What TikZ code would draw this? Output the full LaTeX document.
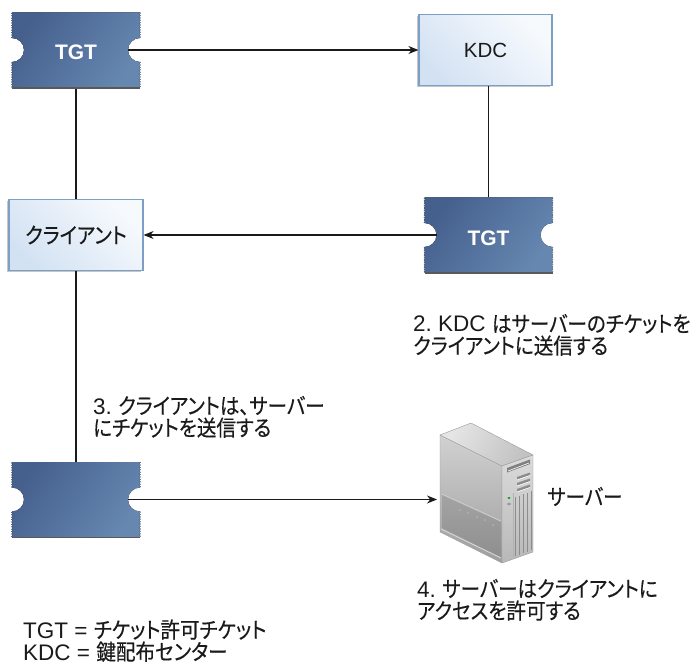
\documentclass[tikz,border=0pt]{standalone}
\usepackage{fontspec}
\setmainfont{Liberation Sans}
\newfontfamily\jp{Noto Sans CJK JP}[RawFeature=+palt, FakeStretch=0.89, FakeBold=0.3]
\usetikzlibrary{arrows.meta,decorations.pathmorphing,shadows}

\definecolor{tkA}{HTML}{46608E}
\definecolor{tkM}{HTML}{6C7D9E}
\definecolor{tkB}{HTML}{6587B0}
\definecolor{boxA}{HTML}{D3E2F3}
\definecolor{boxB}{HTML}{F7FAFD}
\definecolor{boxedge}{HTML}{7D9FC6}
\definecolor{ink}{HTML}{1A1A1A}

\newcommand\ja[1]{{\jp\fontsize{22}{22}\selectfont #1}}
\newcommand\lblsize{\fontsize{22.5}{22}\selectfont}

\tikzset{
  conn/.style={line width=1.2pt, draw=ink},
  arr/.style={conn, -{Stealth[length=10pt,width=8pt]}},
  ticketfill/.style={left color=tkA, middle color=tkM, right color=tkB, shading angle=55},
  perf/.style={decoration={zigzag,segment length=2.4pt,amplitude=0.7pt}},
  tkshadow/.style={draw=black!65, line width=1.6pt},
  tktext/.style={text=white, inner sep=0pt, font=\fontsize{21}{21}\selectfont\bfseries},
  box/.style={draw=boxedge, line width=1.2pt, left color=boxA, right color=boxB,
    shading angle=135, minimum width=133pt, minimum height=71pt, inner sep=0pt,
    text=ink, drop shadow={shadow xshift=-1.6pt, shadow yshift=-1.6pt, opacity=0.45}},
  lbl/.style={anchor=base west, inner sep=0pt, text=ink, font=\lblsize},
}

% perforated ticket centred at #2, with named anchor points
\newcommand\ticketat[2]{%
  \begin{scope}[shift={#2}]
    \fill[ticketfill] (-64,37.5) -- (64,37.5)
      decorate[perf]{ -- (64,12) } arc[start angle=90,end angle=270,radius=12]
      decorate[perf]{ -- (64,-37.5) } -- (-64,-37.5)
      decorate[perf]{ -- (-64,-12) } arc[start angle=-90,end angle=90,radius=12]
      decorate[perf]{ -- (-64,37.5) } -- cycle;
    \draw[tkshadow] (-64,-38) -- (64,-38);
    \coordinate (#1) at (0,0);
    \coordinate (#1-e) at (52,0);
    \coordinate (#1-w) at (-52,0);
    \coordinate (#1-n) at (0,37.5);
    \coordinate (#1-s) at (0,-39);
  \end{scope}}

\begin{document}
\begin{tikzpicture}[x=1pt,y=1pt]
\useasboundingbox (0,0) rectangle (699,665);

% tickets
\ticketat{t1}{(76,615)}
\ticketat{t2}{(488.5,430)}
\ticketat{t3}{(76,165.5)}
\node[tktext] (t1-text) at ([yshift=-2pt]t1) {TGT};
\node[tktext] (t2-text) at ([yshift=-3pt]t2) {TGT};

% boxes
\node[box, font=\fontsize{20.5}{20.5}\selectfont] (kdc) at (485.5,615) {KDC};
\node[box, minimum width=134pt] (client) at (76,430) {\ja{クライアント}};

% server tower
\coordinate (sA) at (440,230);
\coordinate (sB) at (502,199);
\coordinate (sC) at (533,210);
\coordinate (sD) at (471,242);
\coordinate (sE) at (440,133);
\coordinate (sF) at (502,102);
\coordinate (sG) at (533,113);
\coordinate (srv-w) at (437,165.5);
\shade[top color=black!18, bottom color=black!38, draw=black!40, line width=0.4pt]
  (sA) -- (sB) -- (sF) -- (sE) -- cycle;
\shade[left color=black!10, right color=black!24, shading angle=60, draw=black!40, line width=0.4pt]
  (sA) -- (sD) -- (sC) -- (sB) -- cycle;
\shade[top color=black!14, bottom color=black!28, draw=black!40, line width=0.4pt]
  (sB) -- (sC) -- (sG) -- (sF) -- cycle;
% lower panel on the side
\shade[top color=black!36, bottom color=black!44]
  (442,170) -- (501,143) -- (501,108) -- (442,137) -- cycle;
\draw[white!80!black, line width=0.8pt] (442,171) -- (501,144);
\draw[black!15, line width=0.8pt] (441,136) -- (501,107);
\foreach \px/\py in {460/155,468/152,477/148,485/145,493/140}
  \fill[white!85!black] (\px,\py) circle[radius=0.6];
% drive bays
\fill[black!50] (507,197) -- (530,205.5) -- (530,201) -- (507,192.5) -- cycle;
\draw[white, line width=0.6pt] (508,194) -- (529,202);
\foreach \dy in {0,6,12}{
  \fill[black!45] (517,{188-\dy}) -- (530,{192.5-\dy}) -- (530,{190-\dy}) -- (517,{185.5-\dy}) -- cycle;
  \draw[white, line width=0.5pt] (517,{185-\dy}) -- (530,{189.5-\dy});
}
% indicator lights
\fill[green!60!black] (509,167) ellipse[x radius=1.6, y radius=1];
\draw[black!55, line width=0.4pt] (509,161) ellipse[x radius=1.6, y radius=1.1];
% grille strips
\foreach \gx in {515,519,523,527,531}
  \draw[black!45, line width=0.6pt] (\gx,{168+0.35*(\gx-515)}) -- (\gx,{109+0.35*(\gx-515)});
\draw[black!30, line width=0.5pt] (513,{172}) -- (513,{108});

% connectors
\draw[arr] (t1-e) -- (kdc.west);
\draw[conn] (t1-s) -- (client.north);
\draw[conn] (t2-n) -- (t2-n |- kdc.south);
\draw[arr] (t2-w) -- (client.east);
\draw[conn] (client.south) -- (t3-n);
\draw[arr] (t3-e) -- (srv-w);

% captions
\node[lbl] (n2a) at (413,333) {2.\ KDC \ja{はサーバーのチケットを}};
\node[lbl] (n2b) at (413,311) {\ja{クライアントに送信する}};
\node[lbl] (n3a) at (93,251) {3.\ \ja{クライアントは、サーバー}};
\node[lbl] (n3b) at (93,229) {\ja{にチケットを送信する}};
\node[lbl] (n4a) at (417,68) {4.\ \ja{サーバーはクライアントに}};
\node[lbl] (n4b) at (417,46) {\ja{アクセスを許可する}};
\node[lbl] (srvlbl) at (547,160) {\ja{サーバー}};
\node[lbl] (leg1) at (23,27) {TGT = \ja{チケット許可チケット}};
\node[lbl] (leg2) at (23,5) {KDC = \ja{鍵配布センター}};
\end{tikzpicture}
\end{document}
